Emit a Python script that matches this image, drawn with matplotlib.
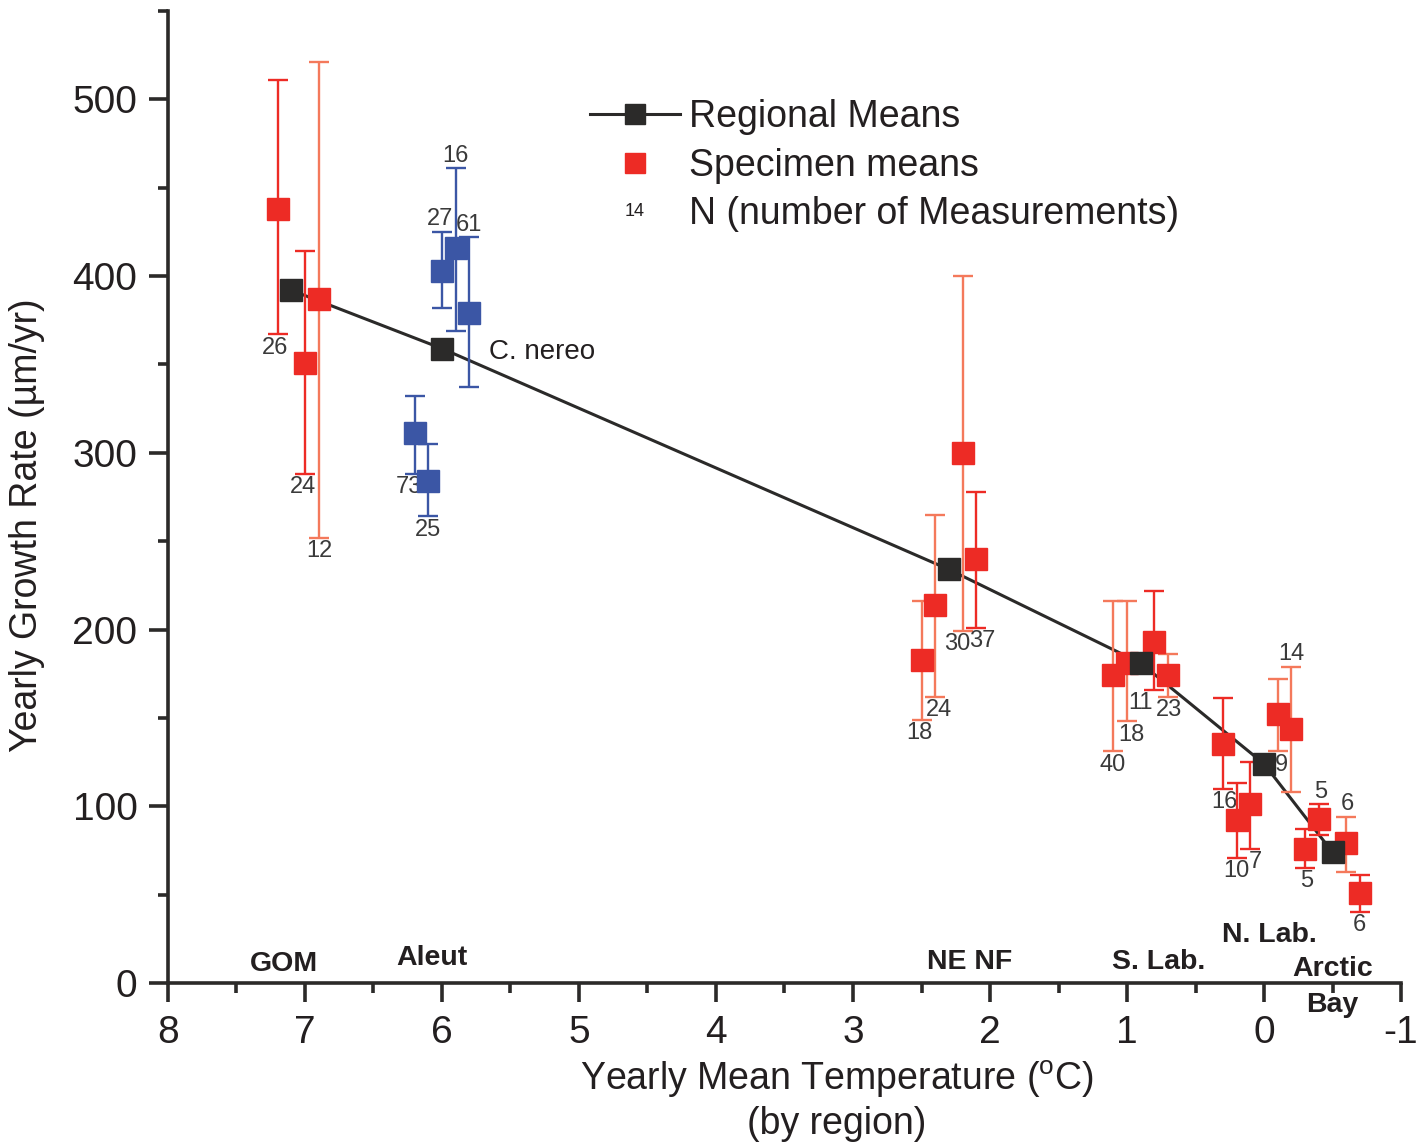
import numpy as np
import matplotlib
matplotlib.use("Agg")
from matplotlib import pyplot as plt
from matplotlib.lines import Line2D
from matplotlib.legend_handler import HandlerBase

plt.rcParams['font.family'] = ['Liberation Sans', 'DejaVu Sans']

#regional means (black squares joined by a line)
region_names = ["GOM", "Aleut", "NE NF", "S. Lab.", "N. Lab.", "Arctic\nBay"]
region_temp = [7.1, 6.0, 2.3, 0.9, 0.0, -0.5]
region_rate = [392, 359, 234, 181, 124, 74]

#specimen means, error bar ends and N
spec_temp = [7.2, 7.0, 6.9,
             6.0, 5.9, 5.8, 6.2, 6.1,
             2.5, 2.4, 2.2, 2.1,
             1.1, 1.0, 0.8, 0.7,
             0.3, 0.2, 0.1, -0.1, -0.2,
             -0.3, -0.4, -0.6, -0.7]
spec_rate = [438, 351, 387,
             403, 416, 379, 311, 284,
             183, 214, 300, 240,
             174, 181, 193, 174,
             135, 92, 101, 152, 144,
             76, 93, 79, 51]
spec_high = [511, 414, 521,
             425, 461, 422, 332, 305,
             216, 265, 400, 278,
             216, 216, 222, 186,
             161, 113, 125, 172, 179,
             87, 101, 94, 61]
spec_low = [367, 288, 252,
            382, 369, 337, 288, 264,
            149, 162, 199, 201,
            131, 148, 166, 162,
            110, 71, 76, 131, 108,
            65, 84, 63, 40]
spec_n = [26, 24, 12,
          27, 16, 61, 73, 25,
          18, 24, 30, 37,
          40, 18, 11, 23,
          16, 10, 7, 9, 14,
          5, 5, 6, 6]
spec_group = ["GOM"] * 3 + ["Aleut"] * 5 + ["NE NF"] * 4 + ["S. Lab."] * 4 + ["N. Lab."] * 5 + ["Arctic"] * 4

red = '#ED2B25'
salmon = '#F4795B'
blue = '#3B56A5'
dark = '#2B2A29'
txt = '#231F20'

#error bar colour per specimen (r = red, s = salmon, b = blue)
bar_col = ['r', 'r', 's',
           'b', 'b', 'b', 'b', 'b',
           's', 's', 's', 'r',
           's', 's', 'r', 's',
           'r', 'r', 'r', 's', 's',
           'r', 'r', 's', 'r']
#where the N label sits: below ('b') or above ('t') the error bar, and sideways shift in px
lab_side = ['b', 'b', 'b',
            't', 't', 't', 'b', 'b',
            'b', 'b', 'b', 'b',
            'b', 'b', 'b', 'b',
            'b', 'b', 'b', 'b', 't',
            'b', 't', 't', 'b']
lab_dx = [-3, -2, 1,
          -2, 0, 0, -6, 0,
          -2, 4, -5, 6,
          -1, 4, -14, 1,
          2, 0, 5, 4, 0,
          2, 2, 1, -1]

cmap = {'r': red, 's': salmon, 'b': blue}


class TextHandler(HandlerBase):
    def create_artists(self, legend, orig_handle, xdescent, ydescent, width, height, fontsize, trans):
        t = matplotlib.text.Text(width / 2, height / 2, "14", ha='center', va='center',
                                 fontsize=13, color=txt, transform=trans)
        return [t]


class Dummy:
    pass


fig = plt.figure(figsize=(14.27, 11.47), dpi=100)
ax = fig.add_axes([0.1177, 0.143, 0.8641, 0.8474])

ax.plot(region_temp, region_rate, '-', color=dark, lw=2.2, zorder=2)

for i in range(len(spec_temp)):
    c = cmap[bar_col[i]]
    mc = blue if spec_group[i] == "Aleut" else red
    y = spec_rate[i]
    ax.errorbar(spec_temp[i], y,
                yerr=[[y - spec_low[i]], [spec_high[i] - y]],
                fmt='none', ecolor=c, elinewidth=1.7, capsize=7, capthick=1.7, zorder=3)
    ax.plot(spec_temp[i], y, 's', color=mc, ms=15.5, mec=mc, zorder=4)
    if lab_side[i] == 'b':
        ax.annotate(str(spec_n[i]), (spec_temp[i], spec_low[i]), xytext=(lab_dx[i] * 0.72, -9.5),
                    textcoords='offset points', ha='center', va='center', fontsize=17, color='#3A3A3A')
    else:
        ax.annotate(str(spec_n[i]), (spec_temp[i], spec_high[i]), xytext=(lab_dx[i] * 0.72, 9),
                    textcoords='offset points', ha='center', va='center', fontsize=17, color='#3A3A3A')

ax.plot(region_temp, region_rate, 's', color=dark, ms=15.5, zorder=5)

ax.text(5.66, 357, "C. nereo", fontsize=20, color=txt, ha='left', va='center')

#region names along the axis
reg_lab_x = [7.15, 6.07, 2.15, 0.77, -0.04, -0.5]
reg_lab_y = [11, 14, 12, 12, 27, -2]
for name, x, y in zip(region_names, reg_lab_x, reg_lab_y):
    ax.text(x, y, name, fontsize=20.5, fontweight='bold', color=txt, ha='center', va='center',
            linespacing=1.5, clip_on=False)

ax.set_xlim(8, -1)
ax.set_ylim(0, 550)
ax.set_xticks(np.arange(8, -2, -1))
ax.set_xticks(np.arange(7.5, -1, -1), minor=True)
ax.set_yticks(np.arange(0, 501, 100))
ax.set_yticks(np.arange(50, 551, 100), minor=True)
ax.set_xticklabels([str(v) for v in range(8, -2, -1)])

for s in ['top', 'right']:
    ax.spines[s].set_visible(False)
for s in ['left', 'bottom']:
    ax.spines[s].set_linewidth(2.6)
    ax.spines[s].set_color(dark)
ax.tick_params(which='major', length=14, width=2.6, color=dark, labelsize=28, labelcolor=txt)
ax.tick_params(which='minor', length=7, width=2.6, color=dark)
ax.tick_params(axis='x', pad=9)
ax.tick_params(axis='y', pad=8)

ax.set_xlabel("Yearly Mean Temperature ($\\mathregular{^o}$C)\n(by region)", fontsize=27,
              color=txt, linespacing=1.2)
ax.xaxis.set_label_coords(0.5426, -0.078)
ax.set_ylabel("Yearly Growth Rate (\u00b5m/yr)", fontsize=27, color=txt)
ax.yaxis.set_label_coords(-0.10, 0.471)

handles = [Line2D([], [], color=dark, lw=2.2, marker='s', ms=14, mfc=dark, mec=dark),
           Line2D([], [], ls='none', marker='s', ms=14, color=red),
           Dummy()]
labels = ["Regional Means", "Specimen means", "N (number of Measurements)"]
ax.legend(handles, labels, loc='upper left', bbox_to_anchor=(0.342, 0.909), frameon=False,
          fontsize=27, handlelength=2.4, handletextpad=0.25, labelspacing=0.33, borderpad=0,
          borderaxespad=0, handler_map={Dummy: TextHandler()}, labelcolor=txt)

plt.savefig('out.png', dpi=100)
